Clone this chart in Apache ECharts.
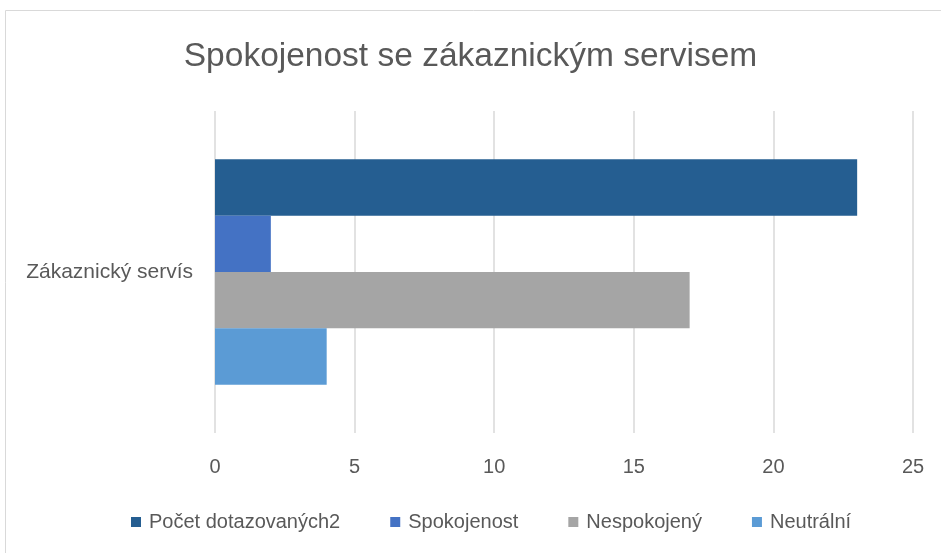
<!DOCTYPE html>
<html>
<head>
<meta charset="utf-8">
<script src="https://cdn.jsdelivr.net/npm/echarts@6/dist/echarts.min.js"></script>
<style>html,body{margin:0;padding:0;background:#fff}#c{width:941px;height:553px}</style>
</head>
<body>
<div id="c"></div>
<script>
const categories = ['Zákaznický servís'];
const seriesNames = ['Počet dotazovaných2', 'Spokojenost', 'Nespokojený', 'Neutrální'];
const seriesValues = [[23], [2], [17], [4]];
const seriesColors = ['#255E91', '#4472C4', '#A5A5A5', '#5B9BD5'];
const xTicks = [0, 5, 10, 15, 20, 25];

const font = 'Liberation Sans, Arial, sans-serif';
const chart = echarts.init(document.getElementById('c'));
chart.setOption({
  animation: false,
  title: {
    text: 'Spokojenost se zákaznickým servisem',
    left: 'center', top: 35,
    textStyle: { fontFamily: font, fontSize: 33.5, fontWeight: 'normal', color: '#595959' }
  },
  graphic: [{
    type: 'rect', shape: { x: 5.5, y: 10.5, width: 940, height: 550 },
    style: { fill: 'none', stroke: '#D9D9D9', lineWidth: 1 }, silent: true
  }],
  legend: {
    data: seriesNames,
    bottom: 16, left: 126,
    itemWidth: 10, itemHeight: 10, itemGap: 50,
    icon: 'rect',
    textStyle: { fontFamily: font, fontSize: 20, color: '#595959', padding: [0, 0, 0, 3] }
  },
  grid: { left: 215, right: 28, top: 111, bottom: 120 },
  xAxis: {
    type: 'value', min: xTicks[0], max: xTicks[xTicks.length - 1], interval: 5,
    axisLine: { show: false }, axisTick: { show: false },
    splitLine: { lineStyle: { color: '#D9D9D9', width: 1.5 } },
    axisLabel: { fontFamily: font, fontSize: 20, color: '#595959', margin: 24 }
  },
  yAxis: {
    type: 'category', data: categories,
    axisLine: { show: false }, axisTick: { show: false },
    axisLabel: { fontFamily: font, fontSize: 21, color: '#595959', margin: 22 }
  },
  series: seriesNames.map((n, i) => ({
    name: n, type: 'bar', data: seriesValues[i],
    itemStyle: { color: seriesColors[i] },
    barGap: '0%', barCategoryGap: '30%'
  }))
});
</script>
</body>
</html>
